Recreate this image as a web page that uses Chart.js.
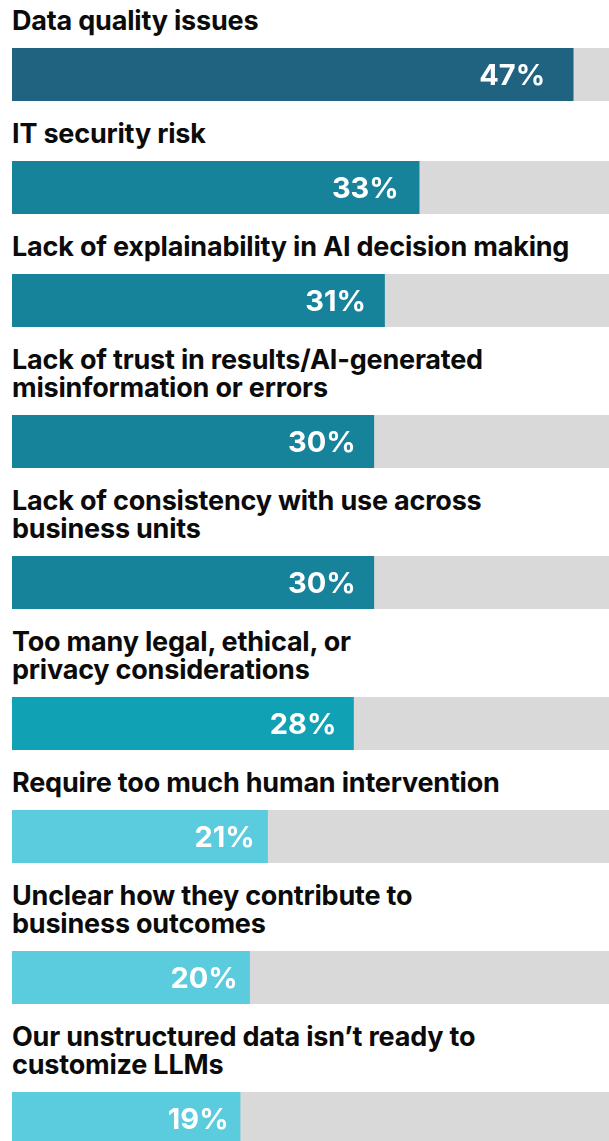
<!DOCTYPE html>
<html>
<head>
<meta charset="utf-8">
<script src="https://cdn.jsdelivr.net/npm/chart.js@4"></script>
<style>
  html, body { margin: 0; padding: 0; background: #ffffff; }
  body { width: 609px; height: 1141px; overflow: hidden; }
  #wrap { padding: 7px 0 0 12px; }
  .row { margin: 0 0 19px 0; }
  .title {
    font-family: Inter, "Noto Sans", sans-serif;
    font-weight: 700;
    font-size: 27px;
    line-height: 28px;
    color: #0b0b0b;
    letter-spacing: -0.2px;
    margin: 0 0 13px 0;
    white-space: nowrap;
  }
  canvas { display: block; }
</style>
</head>
<body>
<div id="wrap"></div>
<script>
// ---- data ----
const categories = [
  ["Data quality issues"],
  ["IT security risk"],
  ["Lack of explainability in AI decision making"],
  ["Lack of trust in results/AI-generated", "misinformation or errors"],
  ["Lack of consistency with use across", "business units"],
  ["Too many legal, ethical, or", "privacy considerations"],
  ["Require too much human intervention"],
  ["Unclear how they contribute to", "business outcomes"],
  ["Our unstructured data isn\u2019t ready to", "customize LLMs"]
];
// bar lengths (percent)
const values = [47, 34.1, 31.2, 30.3, 30.3, 28.6, 21.4, 19.9, 19.1];
// printed labels
const valueLabels = ["47%", "33%", "31%", "30%", "30%", "28%", "21%", "20%", "19%"];
const trackMax = 50;
const barColors = ["#1f6380", "#17839a", "#17839a", "#17839a", "#17839a", "#10a1b5", "#5bcbde", "#5bcbde", "#5bcbde"];
const trackColor = "#d9d9d9";

const labelPlugin = {
  id: "valueLabel",
  afterDatasetsDraw(chart) {
    const meta = chart.getDatasetMeta(0);
    const ctx = chart.ctx;
    const txt = chart.options.plugins.valueLabel.text;
    meta.data.forEach((bar) => {
      const base = bar.base;
      const end = bar.x;
      const xr = base + 0.95 * (end - base);
      ctx.save();
      ctx.font = "700 29px Inter, 'Noto Sans', sans-serif";
      ctx.fillStyle = "#ffffff";
      ctx.textAlign = "right";
      ctx.textBaseline = "alphabetic";
      ctx.fillText(txt, xr, bar.y + 10.8);
      ctx.restore();
    });
  }
};

const wrap = document.getElementById("wrap");
categories.forEach((lines, i) => {
  const row = document.createElement("div");
  row.className = "row";
  const t = document.createElement("div");
  t.className = "title";
  lines.forEach((ln, k) => {
    if (k > 0) t.appendChild(document.createElement("br"));
    t.appendChild(document.createTextNode(ln));
  });
  row.appendChild(t);
  const cv = document.createElement("canvas");
  cv.width = 597;
  cv.height = 53;
  cv.style.width = "597px";
  cv.style.height = "53px";
  row.appendChild(cv);
  wrap.appendChild(row);

  new Chart(cv.getContext("2d"), {
    type: "bar",
    data: {
      labels: [lines.join(" ")],
      datasets: [
        {
          data: [values[i]],
          backgroundColor: barColors[i],
          borderWidth: 0,
          barPercentage: 1,
          categoryPercentage: 1,
          grouped: false,
          order: 0
        },
        {
          data: [trackMax],
          backgroundColor: trackColor,
          borderWidth: 0,
          barPercentage: 1,
          categoryPercentage: 1,
          grouped: false,
          order: 1
        }
      ]
    },
    options: {
      indexAxis: "y",
      responsive: false,
      animation: false,
      devicePixelRatio: 1,
      layout: { padding: 0 },
      scales: {
        x: { display: false, min: 0, max: trackMax },
        y: { display: false }
      },
      plugins: {
        legend: { display: false },
        tooltip: { enabled: false },
        valueLabel: { text: valueLabels[i] }
      }
    },
    plugins: [labelPlugin]
  });
});
</script>
</body>
</html>
